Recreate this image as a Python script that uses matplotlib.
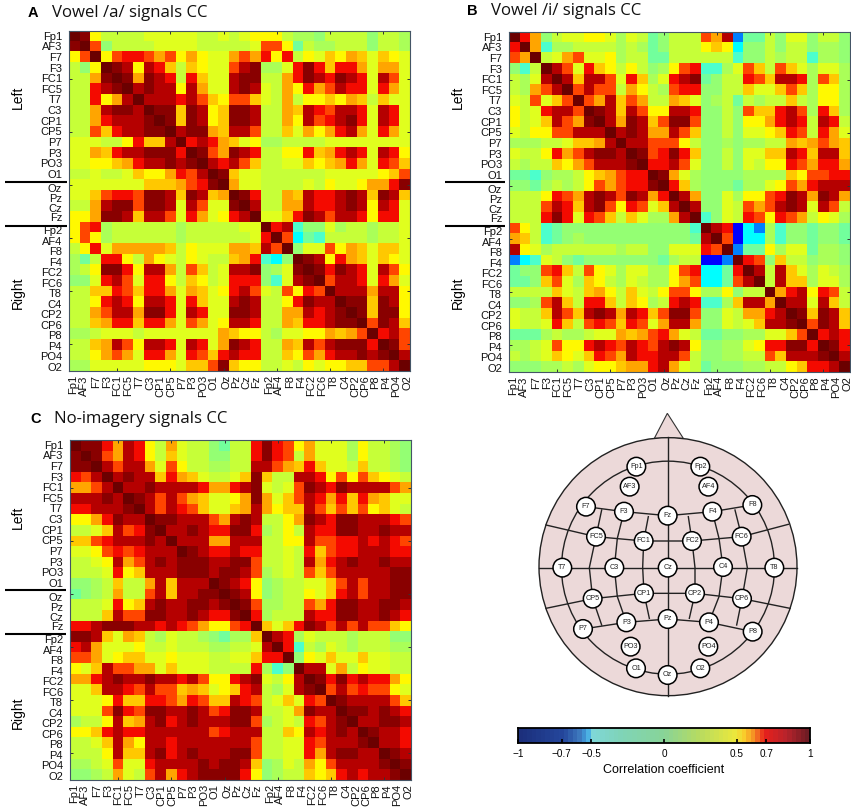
import numpy as np
import matplotlib
matplotlib.use("Agg")
import matplotlib.pyplot as plt
from matplotlib.colors import LinearSegmentedColormap
from matplotlib.patches import Circle, Polygon

plt.rcParams['font.family'] = ['Liberation Sans', 'DejaVu Sans']
W, H = 851, 811

channels = ["Fp1","AF3","F7","F3","FC1","FC5","T7","C3","CP1","CP5","P7","P3","PO3","O1","Oz","Pz",
            "Cz","Fz","Fp2","AF4","F8","F4","FC2","FC6","T8","C4","CP2","CP6","P8","P4","PO4","O2"]

# one character per cell
levels = {'B':-.75,'A':-.6,'c':-.45,'t':-.2,'0':-.05,'1':.08,'2':.17,'3':.28,'4':.38,'5':.5,'g':.56,
          '6':.6,'o':.66,'7':.72,'8':.86,'9':.94,'D':1.0}

vowel_a = [
"D953 3334 4444 3343 4555 3221 3333 1332",
"9Do1 3333 4444 3333 34oo 5032 2333 1332",
"5oD5 o77o 6o56 5446 o675 7354 g56g 4g54",
"315D 9858 7g3g 544o 8922 4797 g776 4664",
"3369 D969 8737 g448 9933 6798 7987 48o4",
"3378 9D89 8858 6448 9843 6576 o877 4764",
"3375 68D8 8878 og5o og43 6355 g56g 3g44",
"3368 998D 99g9 85g9 9833 6g87 o887 4874",
"3367 8889 D9g9 85g9 9833 658o 7897 4874",
"33og 7889 9D89 96g8 8o33 g465 6786 4764",
"4443 357g g8D7 876g 4522 3333 4444 4444",
"446g 7889 997D 9o69 8733 557g 6787 4875",
"4455 g678 8989 D878 og33 44g5 g676 47og",
"3343 34g5 567o 8D9g 4433 3333 4444 45go",
"4444 444g gg6o 79D6 4433 3343 5445 6679",
"44go 77o9 98g9 8g6D 9733 6g87 7898 g98g",
"3368 99o9 9848 o449 D833 6687 7898 5874",
"5569 98g8 8o47 6457 8D44 g798 o887 5774",
"5o72 3333 3323 3333 44D7 8t11 4233 2334",
"5o52 3333 3323 3333 347D oc0t 3333 2334",
"3574 6666 6g35 4446 6g8o D144 o56g 4gg4",
"2037 7536 5435 433g 67tc 1D98 576g 4g54",
"2359 9758 863o g348 8912 49D9 7987 48o5",
"1147 8o47 753g 5347 771t 489D o887 4764",
"33gg 7og7 7646 g457 8o43 o57o D888 6885",
"3357 8758 8747 g448 9833 5798 8D99 g985",
"336o 8869 9748 7449 9833 6687 89D9 g995",
"33g6 77g7 764o 6458 8733 6g77 899D o98g",
"2234 4434 4444 446g 5532 4455 6g6o D78o",
"33g6 8o58 8748 7469 8733 6g8o 8999 7D9o",
"3356 o647 7647 og78 7733 g5o6 7889 89D8",
"2244 4445 554g go9g 5533 4354 55gg oo8D",
]

vowel_i = [
"D761 3445 5424 3013 33o6 8A00 3144 1331",
"7D6t 2233 3323 2013 335g 5c11 3133 1221",
"o6D3 46o4 4523 3003 3333 3t11 3233 t221",
"1t3D 8o47 g535 3125 o7tt 24og 3og4 2442",
"3248 D8g8 8o47 g247 8901 337o g887 2og2",
"326o 8Do8 oo36 532o 7711 33g4 4gog 2552",
"43o4 goDo 68go 6336 g412 3032 33g3 2552",
"5347 88oD 98g8 o558 8711 31og g78o 27g2",
"534g 8o69 D869 8go9 9o11 3155 6787 3873",
"4355 oo88 8D89 8668 og11 3144 5g7o 3764",
"2223 34gg 68D8 8ooo 5311 2122 336g 6o6g",
"4335 76o8 998D 9o79 7g11 3144 gg87 g88g",
"3233 g56o 8889 D778 o411 3143 557o 6776",
"00t1 2235 g6o7 7D96 4211 1122 22g5 oo77",
"1102 3235 o6o7 79D7 g211 1022 45o6 7888",
"3335 7o68 98o9 867D 8611 4255 o798 6986",
"333o 87g8 9o57 o4g8 D811 43o6 o898 48o3",
"3337 9747 og3g 4226 8Dt1 437o 57o6 3542",
"o53t 0111 1111 1111 1tD8 7BcA 2t11 0110",
"6g3t 0121 1111 1111 108D oBcc 2t11 0110",
"8542 3333 3323 3114 447o DA00 5244 0221",
"Act4 3101 1111 1102 33BB AD7o 1g33 1221",
"011o 7g3o 5424 4225 o7cc 07D8 38g4 2432",
"001g o42g 5324 3225 6occ 0o8D 38gg 2442",
"3333 g43g 653g 435o o522 5133 D678 57o3",
"112o 8g37 7g3g 5237 87tt 2g88 6D88 48g3",
"433g 8og8 9868 7go9 9o11 4366 78D9 g98g",
"4334 7g3o 7og7 o468 8611 434g 889D o98g",
"0002 3223 446g 6o76 4300 1122 44go D787",
"2234 o557 87o8 7o89 8511 2245 7799 7D97",
"3234 g54g 7o68 7788 o311 2233 og88 89D8",
"1112 2324 55g6 6786 4301 1122 335g 778D",
]

no_imagery = [
"D997 6875 3643 3103 3797 o564 4425 3321",
"9D9o 6875 3g43 3113 3797 o364 4425 3321",
"99D8 o886 4o53 3223 388o 6g7g 443g 3321",
"7o8D 8988 g76g 4334 g9g3 3887 5o5o g543",
"66o8 D889 8888 7667 8943 4o98 7988 88o6",
"8889 8D98 o8o6 g445 6964 go87 67g7 6g44",
"7788 89D8 o87o g44g 6865 gg8o gogo 5g43",
"5567 988D 9988 8o68 9833 5698 7998 887o",
"334g 8o79 D889 8779 9723 5387 7998 8988",
"ggo7 8889 8D88 8668 8833 558o o778 787o",
"445o 7o78 88D9 8778 7733 437g o778 8877",
"3345 86o8 9899 9889 9o33 4386 7898 8988",
"3334 75g8 8899 9899 8o23 43og o888 8899",
"1123 g336 8g88 8D98 7512 3344 go8o 8899",
"0123 633o 8g88 99D9 8512 3354 g78o 8899",
"3334 75g8 9889 989D 9o22 33o6 7998 8998",
"333g 8oo9 9889 8779 D723 3387 7998 8987",
"7789 9988 787o 655o 7Dg4 g798 o8o8 oog5",
"998g 46g3 2433 2102 2gD8 7243 3323 3311",
"7864 4453 3433 3223 348D 7t32 4323 3322",
"oo64 5gg4 4544 4334 4g77 D154 g44g 4433",
"54g8 oo66 4g44 4333 372t 1D88 4635 4433",
"6678 9889 8878 o557 8943 58D9 7978 7765",
"44g8 87o8 oog6 g45g 7832 489D o8o7 oo54",
"4445 7gg7 7o67 ogg8 7o34 g47o D988 88og",
"444o 97o9 9889 8o79 9833 4698 8D99 8987",
"2335 8g68 9789 8889 9o23 437o 89D8 8998",
"55g7 8778 8888 8o78 8833 g587 898D 9887",
"334g 8658 8788 8888 8o33 447o 8889 D887",
"3335 8gg8 9789 8889 9o33 4476 8998 8D98",
"2234 o447 8888 9899 8g12 4365 o888 89D9",
"1123 643o 8678 9999 7512 33g5 g787 889D",
]

def decode(rows):
    out = []
    for r in rows:
        s = r.replace(" ", "")
        if len(s) != 32:
            raise ValueError(r)
        out.append([levels[c] for c in s])
    if len(out) != 32:
        raise ValueError(len(out))
    return np.array(out)

stops = [(-1,(0,0,.5)),(-.75,(0,0,1)),(-.6,(0,.5,1)),(-.45,(0,1,1)),(-.2,(.3,1,.8)),(0,(.5,1,.55)),
         (.25,(.75,1,.25)),(.5,(1,1,0)),(.6,(1,.65,0)),(.7,(1,.05,0)),(.85,(.75,0,0)),(1,(.42,0,0))]
cmap = LinearSegmentedColormap.from_list("cc", [((v+1)/2, c) for v, c in stops], N=256)

bar_stops = [(-1,'#1c2f7c'),(-.7,'#25479c'),(-.58,'#3f7cc0'),(-.53,'#3fa8e6'),(-.5,'#7fd8d8'),(-.3,'#80d4b8'),
             (0,'#88d498'),(.25,'#b8dc60'),(.5,'#ece83c'),(.56,'#fbcb2a'),(.63,'#f58a24'),(.7,'#e8201c'),
             (.85,'#b8242c'),(1,'#701c24')]
bar_cmap = LinearSegmentedColormap.from_list("bar", [((v+1)/2, c) for v, c in bar_stops], N=64)

fig = plt.figure(figsize=(W/100, H/100), dpi=100)

def axes_px(l, t, r, b, **kw):
    return fig.add_axes([l/W, 1-b/H, (r-l)/W, (b-t)/H], **kw)

over = axes_px(0, 0, W, H, zorder=5)
over.set_xlim(0, W); over.set_ylim(H, 0); over.axis('off')

cell = 10.66
xlab_px = np.array([13,46,80,113,145,178,211,243,275,307,339,371,403,435,473,503,
                    533,563,601,631,663,696,728,760,796,828,858,889,920,951,983,1015])/3
ylab_px = np.array([4.7+cell*i for i in range(14)] + [157.7,167.5,177.3,187.0] + [199.7+10.56*i for i in range(14)])

def panel(M, l, t, letter, lx, title, tx, tyy, sep_l, sep_r, side_x, left_y, right_y, sep_y):
    ax = axes_px(l, t, l+341, t+340)
    ax.imshow(M, cmap=cmap, vmin=-1, vmax=1, aspect='auto', interpolation='nearest')
    ax.set_xticks(xlab_px/cell-.5, channels, rotation=90, fontsize=8)
    ax.set_yticks(ylab_px/cell-.5, channels, fontsize=8)
    ax.tick_params(axis='x', which='major', length=0, pad=3, colors='#111111')
    ax.tick_params(axis='y', which='major', length=0, pad=5, colors='#111111')
    ax.set_xticks(np.arange(4, 32, 5), minor=True)
    ax.set_yticks(np.arange(4, 32, 5), minor=True)
    ax.tick_params(axis='both', which='minor', length=2, width=.7, direction='in',
                   top=True, right=True, color='#333333')
    for s in ax.spines.values():
        s.set_linewidth(.8); s.set_color('#445566')
    over.text(lx, tyy, letter, fontsize=10.5, fontweight='bold', ha='left', va='center')
    over.text(tx, tyy, title, fontsize=12.1, family='Open Sans', ha='left', va='center', color='#111111')
    for y in sep_y:
        over.plot([sep_l, sep_r], [y, y], color='black', lw=1.5, solid_capstyle='butt')
    over.text(side_x, left_y, "Left", rotation=90, fontsize=10, ha='center', va='center')
    over.text(side_x, right_y, "Right", rotation=90, fontsize=10, ha='center', va='center')

panel(decode(vowel_a), 69, 31, "A", 28, "Vowel /a/ signals CC", 52, 13, 5, 67, 18, 97, 293, [182, 225.7])
panel(decode(vowel_i), 509, 32, "B", 467, "Vowel /i/ signals CC", 491, 11, 445, 505, 458, 97, 293, [182, 226])
panel(decode(no_imagery), 70, 440, "C", 30, "No-imagery signals CC", 54, 419, 5, 66, 18, 517, 713, [590, 634])

# Head schematic, positions in the pixels of the picture
def hx(a): return 520+np.asarray(a, float)/3
def hy(a): return 405+np.asarray(a, float)/3

head_fill = '#ecd9d9'
over.add_patch(Polygon(np.c_[hx([403,442,490]), hy([100,25,100])], closed=True, fc=head_fill, ec='#333333', lw=.8))
over.add_patch(Circle((hx(444), hy(485)), 129, fc=head_fill, ec='#222222', lw=1))
over.add_patch(Circle((hx(444), hy(488)), 106.5, fc='none', ec='#222222', lw=1))

grid_lines = [
 ([444,444],[97,873]), ([58,830],[488,488]),
 ([198,312,443,577,697],[305,320,332,320,300]),
 ([78,228,371,516,665,805],[360,395,408,408,395,358]),
 ([78,218,372,525,666,810],[610,581,565,565,581,610]),
 ([189,319,443,567,698],[672,652,642,652,680]),
 ([312,292,283,292,319],[320,400,488,575,652]),
 ([577,597,609,597,567],[320,400,486,575,652]),
 ([245,228,208,218,245],[315,395,488,581,660]),
 ([645,665,682,666,650],[315,395,488,581,660]),
 ([385,371,368,372,388],[335,408,488,565,640]),
 ([505,516,525,525,508],[335,408,488,565,640]),
]
for gx, gy in grid_lines:
    over.plot(hx(gx), hy(gy), color='#222222', lw=1)

electrodes = {"Fp1":(349,185),"Fp2":(541,185),"AF3":(329,245),"AF4":(565,245),"F7":(198,305),"F3":(312,320),
 "Fz":(443,332),"F4":(577,320),"F8":(697,300),"FC5":(228,395),"FC1":(371,408),"FC2":(516,408),"FC6":(665,395),
 "T7":(127,488),"C3":(283,488),"Cz":(443,488),"C4":(609,486),"T8":(763,488),"CP5":(218,581),"CP1":(372,565),
 "CP2":(525,565),"CP6":(666,581),"P7":(189,672),"P3":(319,652),"Pz":(443,642),"P4":(567,652),"P8":(698,680),
 "PO3":(332,725),"PO4":(565,725),"O1":(348,790),"O2":(541,790),"Oz":(443,810)}
for name, (ex, ey) in electrodes.items():
    over.add_patch(Circle((hx(ex), hy(ey)), 9.3, fc='white', ec='black', lw=1.1, zorder=3))
    over.text(hx(ex), hy(ey), name, fontsize=5.2, ha='center', va='center', zorder=4, color='#222222')

# Colour bar
cax = axes_px(518, 728, 810, 743)
cb_vals = np.linspace(-1, 1, 64)[None, :]
cax.imshow(cb_vals, cmap=bar_cmap, vmin=-1, vmax=1, aspect='auto', extent=(-1.0, 1.0, 0, 1))
cb_ticks = [-1, -.7, -.5, 0, .5, .7, 1]
cb_labels = ["\u22121", "\u22120.7", "\u22120.5", "0", "0.5", "0.7", "1"]
cax.set_xticks(cb_ticks, cb_labels, fontsize=7.2)
cax.set_yticks([])
cax.tick_params(axis='x', length=3, width=1.2, direction='in', pad=4, colors='black')
for s in cax.spines.values():
    s.set_linewidth(1.3)
cax.set_xlabel("Correlation coefficient", fontsize=9, labelpad=4)

fig.savefig("out.png", dpi=100)
